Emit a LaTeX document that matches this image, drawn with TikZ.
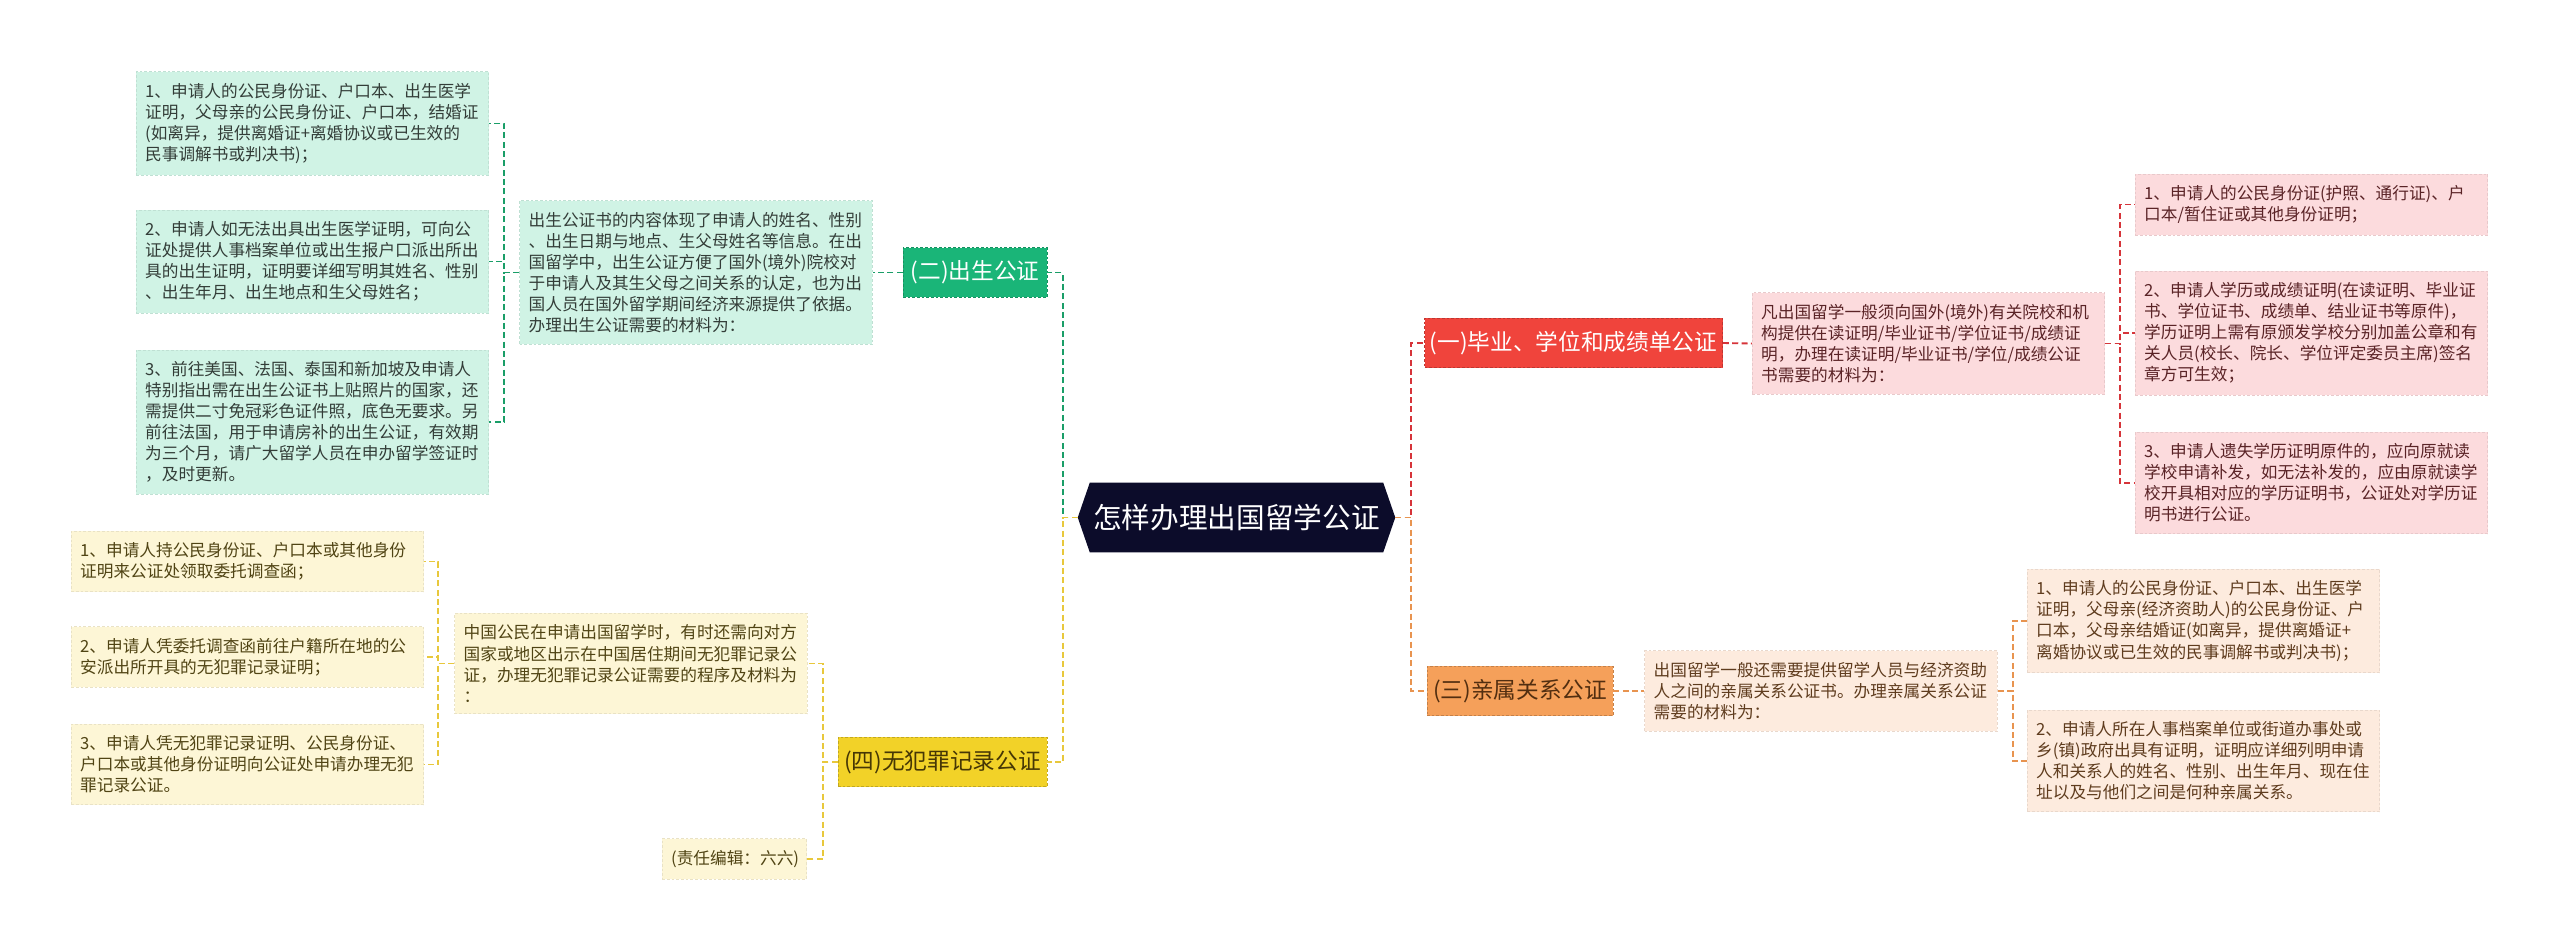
\documentclass[tikz,border=0pt]{standalone}
\usepackage{fontspec}
\setmainfont{Noto Sans CJK SC}
\usetikzlibrary{calc, backgrounds}
\definecolor{rootNavy}  {RGB}{12,  12,  42}
\definecolor{greenMain} {RGB}{26, 181, 120}
\definecolor{greenLine} {RGB}{26, 158, 104}
\definecolor{mintFill}  {RGB}{208, 243, 229}
\definecolor{mintText}  {RGB}{51,  61,  56}
\definecolor{redMain}   {RGB}{240,  68,  60}
\definecolor{redLine}   {RGB}{214,  52,  58}
\definecolor{pinkFill}  {RGB}{252, 219, 221}
\definecolor{pinkText}  {RGB}{90,  35,  38}
\definecolor{orangeMain}{RGB}{245, 160,  90}
\definecolor{orangeLine}{RGB}{232, 148,  80}
\definecolor{orangeText}{RGB}{82,  46,  16}
\definecolor{peachFill} {RGB}{253, 235, 222}
\definecolor{peachText} {RGB}{95,  60,  30}
\definecolor{yellowMain}{RGB}{242, 210,  40}
\definecolor{yellowLine}{RGB}{232, 200,  60}
\definecolor{yellowText}{RGB}{70,  55,   5}
\definecolor{creamFill} {RGB}{253, 246, 214}
\definecolor{creamText} {RGB}{80,  68,  20}
\tikzset{
  rootbox/.style = {rectangle, text=white, inner sep=0pt,
                    minimum width=237.75pt, minimum height=51.75pt,
                    font=\fontsize{21.5}{26}\selectfont},
  branch/.style 2 args = {rectangle, fill=#1, draw=#1!80!black,
                    dash pattern=on 2pt off 1.5pt, line width=0.6pt,
                    text=#2, minimum height=37pt, inner sep=4pt,
                    font=\fontsize{17}{20}\selectfont},
  leafbox/.style 2 args = {rectangle, fill=#1, draw=#1!92!black,
                    dash pattern=on 2pt off 1.5pt, line width=0.6pt,
                    text=#2, text width=251pt, align=left,
                    inner xsep=6.75pt, inner ysep=8.6pt,
                    font=\fontsize{12.5}{15.8}\selectfont},
  conn/.style = {draw=#1, line width=1.4pt, dash pattern=on 4.5pt off 2.5pt},
}
\begin{document}
\begin{tikzpicture}[x=0.75pt, y=-0.75pt]
\useasboundingbox (0,0) rectangle (2560,951);

% ---- Root -------------------------------------------------------------------
\node[rootbox] (root) at (1236.5,517.5) {怎样办理出国留学公证};
\begin{scope}[on background layer]
  \fill[rootNavy] ($(root.north west)+(9pt,0)$) -- ($(root.north east)+(-9pt,0)$)
    -- (root.east) -- ($(root.south east)+(-9pt,0)$)
    -- ($(root.south west)+(9pt,0)$) -- (root.west) -- cycle;
\end{scope}

% ---- (二) green branch ------------------------------------------------------
\node[branch={greenMain}{white}, minimum width=108pt] (gnode) at (975,272.5)
      {(二)出生公证};
\node[leafbox={mintFill}{mintText}] (gdesc) at (696,272.5) {%
  出生公证书的内容体现了申请人的姓名、性别\\
  、出生日期与地点、生父母姓名等信息。在出\\
  国留学中，出生公证方便了国外(境外)院校对\\
  于申请人及其生父母之间关系的认定，也为出\\
  国人员在国外留学期间经济来源提供了依据。\\
  办理出生公证需要的材料为：};
\node[leafbox={mintFill}{mintText}] (gl1) at (312.5,123.5) {%
  1、申请人的公民身份证、户口本、出生医学\\
  证明，父母亲的公民身份证、户口本，结婚证\\
  (如离异，提供离婚证+离婚协议或已生效的\\
  民事调解书或判决书)；};
\node[leafbox={mintFill}{mintText}] (gl2) at (312.5,261.5) {%
  2、申请人如无法出具出生医学证明，可向公\\
  证处提供人事档案单位或出生报户口派出所出\\
  具的出生证明，证明要详细写明其姓名、性别\\
  、出生年月、出生地点和生父母姓名；};
\node[leafbox={mintFill}{mintText}] (gl3) at (312.5,422) {%
  3、前往美国、法国、泰国和新加坡及申请人\\
  特别指出需在出生公证书上贴照片的国家，还\\
  需提供二寸免冠彩色证件照，底色无要求。另\\
  前往法国，用于申请房补的出生公证，有效期\\
  为三个月，请广大留学人员在申办留学签证时\\
  ，及时更新。};

% ---- (四) yellow branch -----------------------------------------------------
\node[branch={yellowMain}{yellowText}, minimum width=156.75pt] (ynode) at (942.5,762)
      {(四)无犯罪记录公证};
\node[leafbox={creamFill}{creamText}] (ydesc) at (631,663.5) {%
  中国公民在申请出国留学时，有时还需向对方\\
  国家或地区出示在中国居住期间无犯罪记录公\\
  证，办理无犯罪记录公证需要的程序及材料为\\
  ：};
\node[leafbox={creamFill}{creamText}, text width=95pt, align=center] (yedit)
      at (734.5,859) {(责任编辑：六六)};
\node[leafbox={creamFill}{creamText}] (yl1) at (247.5,561.5) {%
  1、申请人持公民身份证、户口本或其他身份\\
  证明来公证处领取委托调查函；};
\node[leafbox={creamFill}{creamText}] (yl2) at (247.5,657) {%
  2、申请人凭委托调查函前往户籍所在地的公\\
  安派出所开具的无犯罪记录证明；};
\node[leafbox={creamFill}{creamText}] (yl3) at (247.5,764.5) {%
  3、申请人凭无犯罪记录证明、公民身份证、\\
  户口本或其他身份证明向公证处申请办理无犯\\
  罪记录公证。};

% ---- (一) red branch --------------------------------------------------------
\node[branch={redMain}{white}, minimum width=221.25pt] (rnode) at (1573.5,343)
      {(一)毕业、学位和成绩单公证};
\node[leafbox={pinkFill}{pinkText}] (rdesc) at (1928.5,343.5) {%
  凡出国留学一般须向国外(境外)有关院校和机\\
  构提供在读证明/毕业证书/学位证书/成绩证\\
  明，办理在读证明/毕业证书/学位/成绩公证\\
  书需要的材料为：};
\node[leafbox={pinkFill}{pinkText}] (rl1) at (2311.5,204.5) {%
  1、申请人的公民身份证(护照、通行证)、户\\
  口本/暂住证或其他身份证明；};
\node[leafbox={pinkFill}{pinkText}] (rl2) at (2311.5,333) {%
  2、申请人学历或成绩证明(在读证明、毕业证\\
  书、学位证书、成绩单、结业证书等原件)，\\
  学历证明上需有原颁发学校分别加盖公章和有\\
  关人员(校长、院长、学位评定委员主席)签名\\
  章方可生效；};
\node[leafbox={pinkFill}{pinkText}] (rl3) at (2311.5,483) {%
  3、申请人遗失学历证明原件的，应向原就读\\
  学校申请补发，如无法补发的，应由原就读学\\
  校开具相对应的学历证明书，公证处对学历证\\
  明书进行公证。};

% ---- (三) orange branch -----------------------------------------------------
\node[branch={orangeMain}{orangeText}, minimum width=139.5pt] (onode) at (1520,691)
      {(三)亲属关系公证};
\node[leafbox={peachFill}{peachText}] (odesc) at (1821,691) {%
  出国留学一般还需要提供留学人员与经济资助\\
  人之间的亲属关系公证书。办理亲属关系公证\\
  需要的材料为：};
\node[leafbox={peachFill}{peachText}] (ol1) at (2203.5,621) {%
  1、申请人的公民身份证、户口本、出生医学\\
  证明，父母亲(经济资助人)的公民身份证、户\\
  口本，父母亲结婚证(如离异，提供离婚证+\\
  离婚协议或已生效的民事调解书或判决书)；};
\node[leafbox={peachFill}{peachText}] (ol2) at (2203.5,761) {%
  2、申请人所在人事档案单位或街道办事处或\\
  乡(镇)政府出具有证明，证明应详细列明申请\\
  人和关系人的姓名、性别、出生年月、现在住\\
  址以及与他们之间是何种亲属关系。};

% ---- Connectors: left side --------------------------------------------------
\draw[conn=greenLine] (root.west) -- ++(-15,0) |- (gnode.east);
\draw[conn=greenLine] (gnode.west) -- (gdesc.east);
\draw[conn=greenLine] (gdesc.west) -- ++(-15,0) |- (gl1.east);
\draw[conn=greenLine] (gdesc.west) -- ++(-15,0) |- (gl2.east);
\draw[conn=greenLine] (gdesc.west) -- ++(-15,0) |- (gl3.east);

\draw[conn=yellowLine] (root.west) -- ++(-15,0) |- (ynode.east);
\draw[conn=yellowLine] (ynode.west) -- ++(-15,0) |- (ydesc.east);
\draw[conn=yellowLine] (ynode.west) -- ++(-15,0) |- (yedit.east);
\draw[conn=yellowLine] (ydesc.west) -- ++(-16,0) |- (yl1.east);
\draw[conn=yellowLine] (ydesc.west) -- ++(-16,0) |- (yl2.east);
\draw[conn=yellowLine] (ydesc.west) -- ++(-16,0) |- (yl3.east);

% ---- Connectors: right side -------------------------------------------------
\draw[conn=redLine] (root.east) -- ++(16,0) |- (rnode.west);
\draw[conn=redLine] (rnode.east) -- (rdesc.west);
\draw[conn=redLine] (rdesc.east) -- ++(15,0) |- (rl1.west);
\draw[conn=redLine] (rdesc.east) -- ++(15,0) |- (rl2.west);
\draw[conn=redLine] (rdesc.east) -- ++(15,0) |- (rl3.west);

\draw[conn=orangeLine] (root.east) -- ++(16,0) |- (onode.west);
\draw[conn=orangeLine] (onode.east) -- (odesc.west);
\draw[conn=orangeLine] (odesc.east) -- ++(15,0) |- (ol1.west);
\draw[conn=orangeLine] (odesc.east) -- ++(15,0) |- (ol2.west);

\end{tikzpicture}
\end{document}
